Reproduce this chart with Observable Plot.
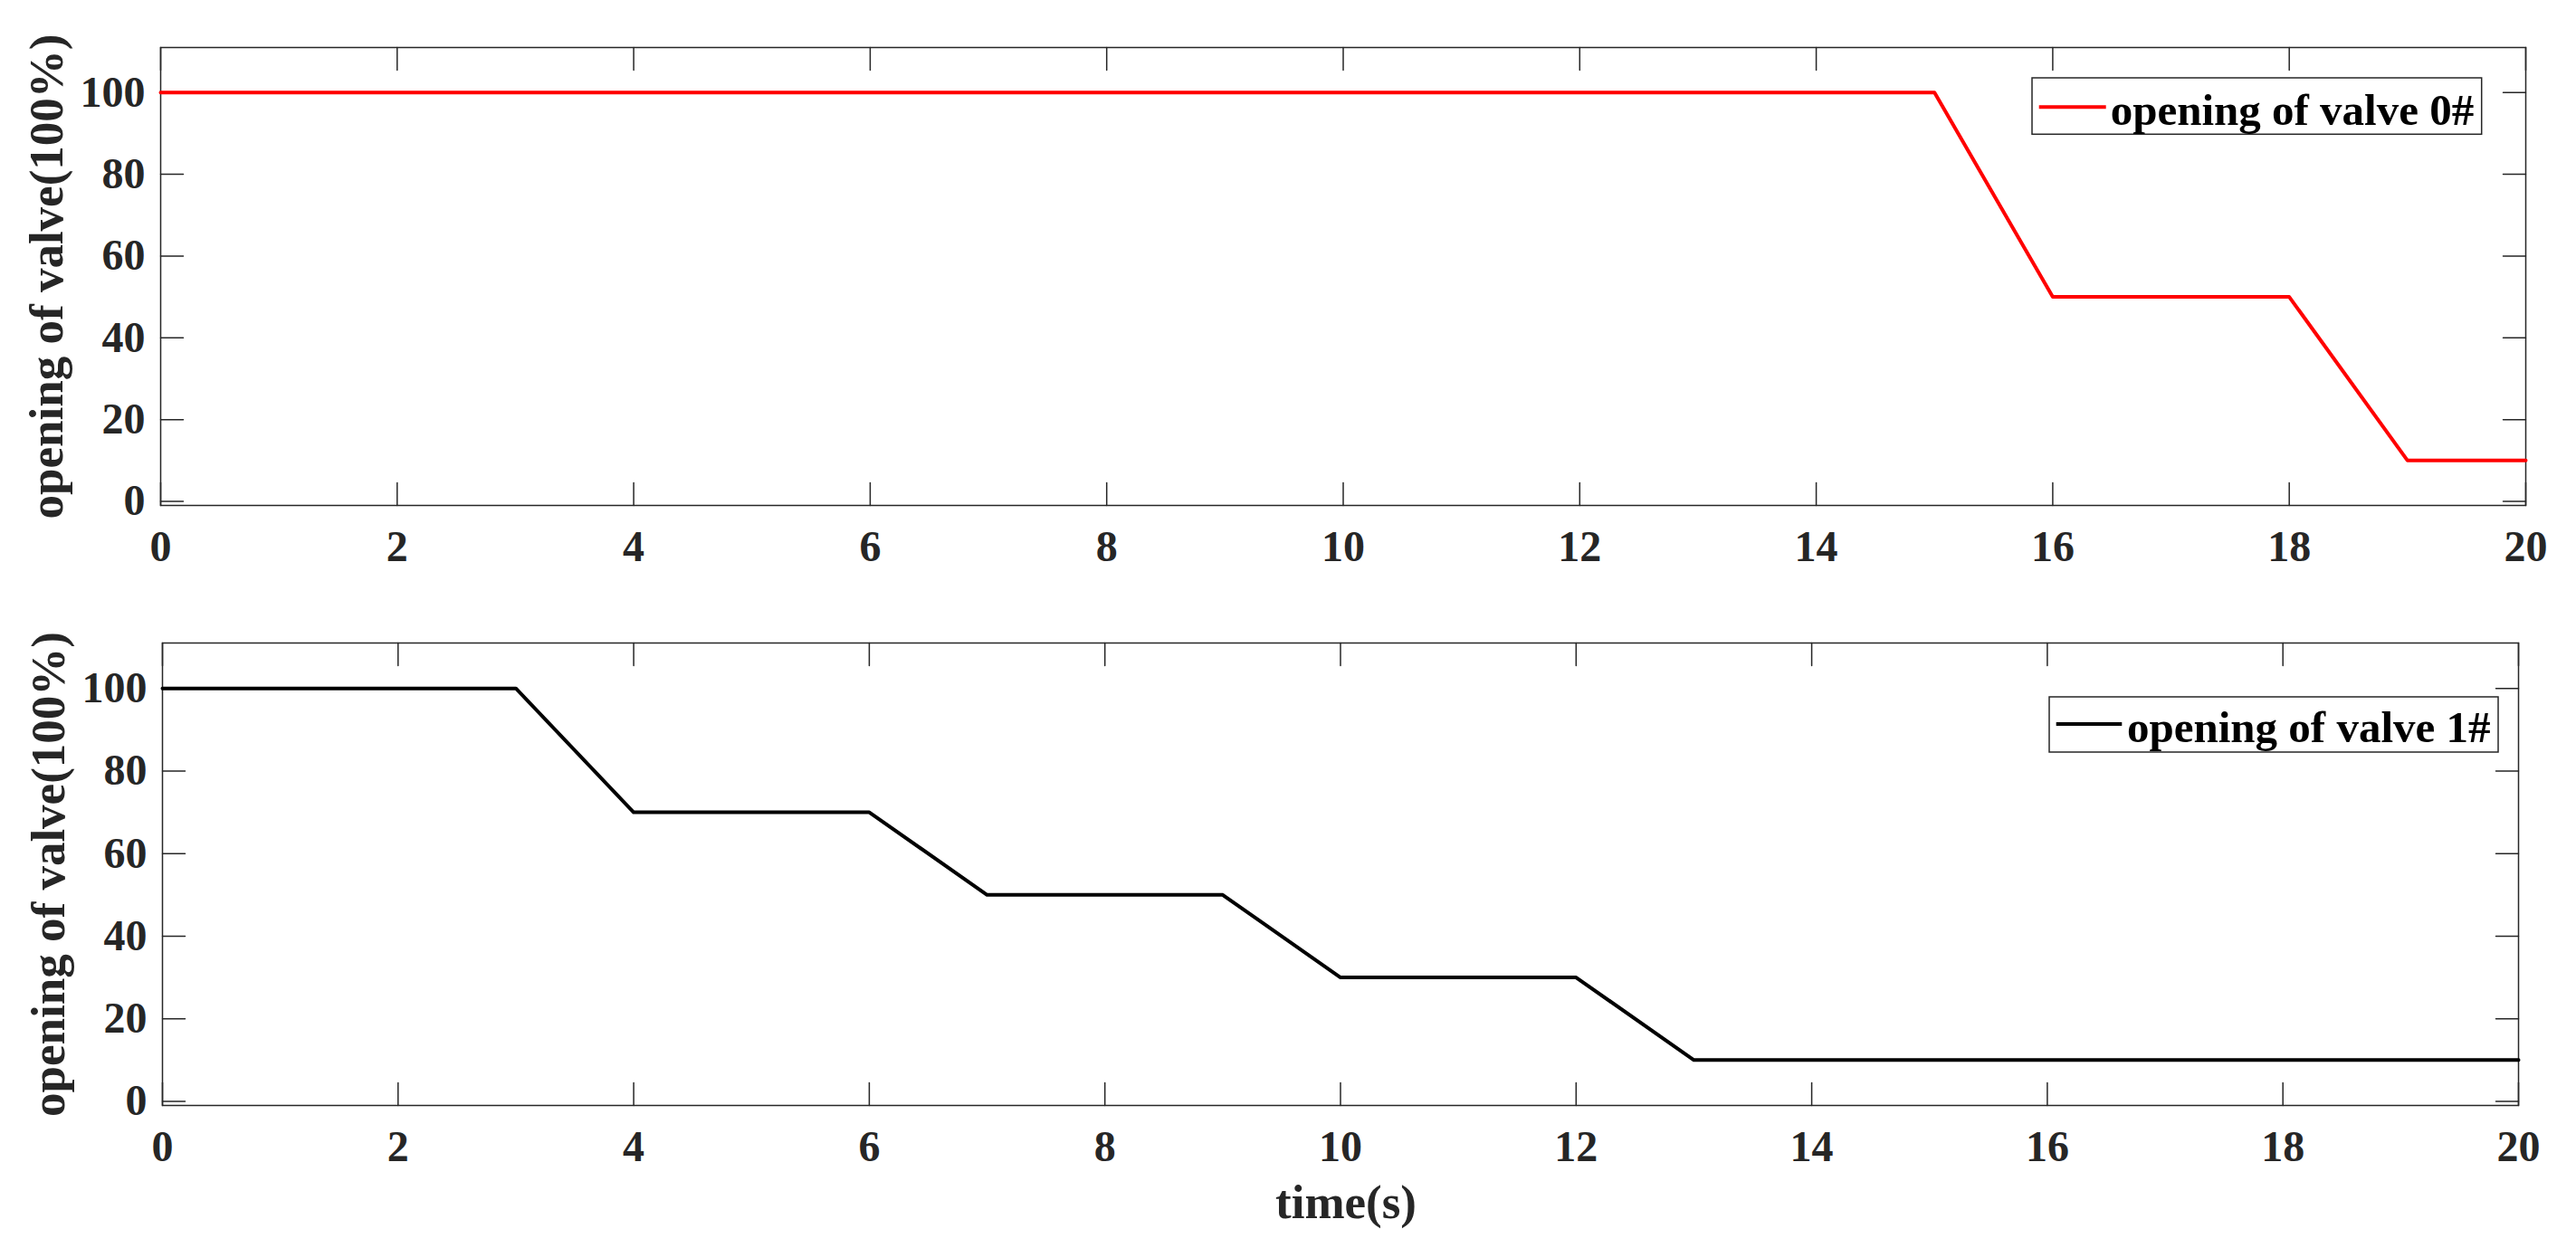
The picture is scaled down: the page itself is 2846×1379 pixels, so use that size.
<!DOCTYPE html>
<html><head><meta charset="utf-8">
<script src="https://cdn.jsdelivr.net/npm/d3@7"></script>
<script src="https://cdn.jsdelivr.net/npm/@observablehq/plot@0.6"></script>
<style>
body{margin:0;background:#fff}
#wrap{position:relative;width:2846px;height:1379px;overflow:hidden;background:#fff}
.panel{position:absolute;left:0}
#overlay{position:absolute;left:0;top:0;pointer-events:none}
</style></head><body><div id="wrap"></div>
<script>
// ---- data ----
const time0 = [0, 15, 16, 18, 19, 20];
const valve0 = [100, 100, 50, 50, 10, 10];
const time1 = [0, 3, 4, 6, 7, 9, 10, 12, 13, 20];
const valve1 = [100, 100, 70, 70, 50, 50, 30, 30, 10, 10];
const xTicks = [0, 2, 4, 6, 8, 10, 12, 14, 16, 18, 20];
const yTicks = [0, 20, 40, 60, 80, 100];
const xDomain = [0, 20];
const yDomain = [-1, 111];
const yLabel = "opening of valve(100%)";
const xLabel = "time(s)";
const legend0 = "opening of valve 0#";
const legend1 = "opening of valve 1#";

const FONT = '"Times New Roman","Liberation Serif",serif';
const AX = "#262626";
const tickShape = {draw(ctx, l) { ctx.moveTo(0, 0); ctx.lineTo(0, -l); }};

function innerTicks() {
  const o = {length: 25, anchor: "start", shape: tickShape, stroke: AX, strokeWidth: 1.5};
  return [
    Plot.vector(yTicks, {x: () => xDomain[0], y: d => d, rotate: 90, ...o}),
    Plot.vector(yTicks, {x: () => xDomain[1], y: d => d, rotate: -90, ...o}),
    Plot.vector(xTicks, {x: d => d, y: () => yDomain[0], rotate: 0, ...o}),
    Plot.vector(xTicks, {x: d => d, y: () => yDomain[1], rotate: 180, ...o})
  ];
}

function panel({times, values, color, height, mt, mb, ml, mr, labelDx, withXTitle}) {
  const data = times.map((t, i) => ({t, v: values[i]}));
  const marks = [
    Plot.frame({stroke: AX, strokeWidth: 1.5}),
    ...innerTicks(),
    Plot.axisX({ticks: xTicks, tickSize: 0, tickPadding: 27, label: null, fill: AX}),
    Plot.axisY({ticks: yTicks, tickSize: 0, tickPadding: 17, label: null, fill: AX}),
    Plot.line(data, {x: "t", y: "v", stroke: color, strokeWidth: 4}),
    Plot.text([yLabel], {frameAnchor: "left", text: d => d, rotate: -90, dx: labelDx,
      lineAnchor: "bottom", textAnchor: "middle", fontSize: 53, fill: AX})
  ];
  if (withXTitle) {
    marks.push(Plot.text([xLabel], {frameAnchor: "bottom", text: d => d, dy: 124, dx: 6,
      lineAnchor: "bottom", textAnchor: "middle", fontSize: 53, fill: AX}));
  }
  return Plot.plot({
    width: 2846, height,
    marginTop: mt, marginBottom: mb, marginLeft: ml, marginRight: mr,
    x: {domain: xDomain},
    y: {domain: yDomain},
    style: {fontFamily: FONT, fontSize: "48px", fontWeight: "bold", color: AX, background: "transparent", overflow: "visible"},
    marks
  });
}

const wrapEl = document.getElementById("wrap");
const topPanel = panel({times: time0, values: valve0, color: "#ff0000", height: 640, mt: 52, mb: 82, ml: 177, mr: 56, labelDx: -109, withXTitle: false});
topPanel.classList.add("panel"); topPanel.style.top = "0px";
wrapEl.appendChild(topPanel);
const botPanel = panel({times: time1, values: valve1, color: "#000000", height: 739, mt: 70, mb: 158, ml: 179, mr: 64, labelDx: -109, withXTitle: true});
botPanel.classList.add("panel"); botPanel.style.top = "640px";
wrapEl.appendChild(botPanel);

// ---- legends (overlay) ----
const svg = d3.select(wrapEl).append("svg").attr("id", "overlay").attr("width", 2846).attr("height", 1379);
function legend(box, line, text, color, label) {
  const g = svg.append("g");
  g.append("rect").attr("x", box[0]).attr("y", box[1]).attr("width", box[2]).attr("height", box[3])
    .attr("fill", "white").attr("stroke", AX).attr("stroke-width", 1.5);
  g.append("line").attr("x1", line[0]).attr("x2", line[1]).attr("y1", line[2]).attr("y2", line[2])
    .attr("stroke", color).attr("stroke-width", 4);
  g.append("text").attr("x", text[0]).attr("y", text[1]).attr("font-family", FONT)
    .attr("font-size", 49).attr("font-weight", "bold").attr("fill", "#000").text(label);
}
legend([2245, 86, 496.7, 62.3], [2252.7, 2326.7, 118.3], [2331.7, 137.7], "#ff0000", legend0);
legend([2264, 770, 496, 61], [2271.7, 2344.3, 800], [2350, 820], "#000000", legend1);
</script></body></html>
